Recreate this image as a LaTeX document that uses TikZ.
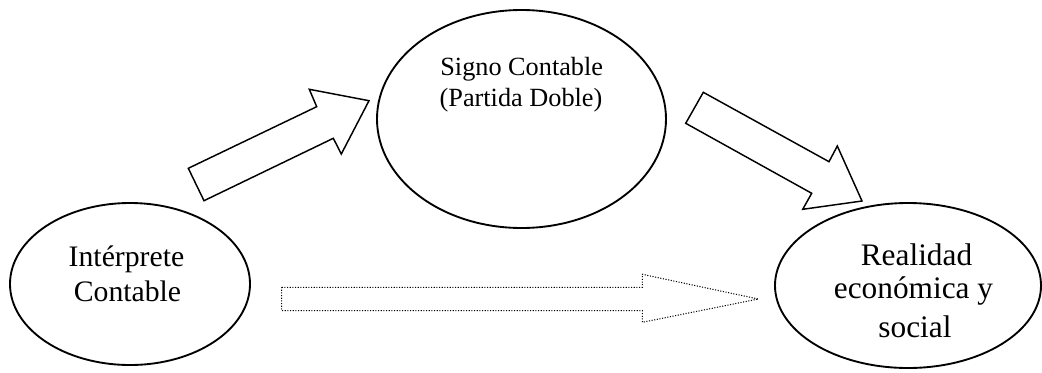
\documentclass[tikz,border=0pt]{standalone}
\usepackage{fontspec}
\setmainfont{Liberation Serif}
\usetikzlibrary{shapes.geometric}

\tikzset{
  bubble/.style={draw, ellipse, line width=1.4pt, inner sep=0pt},
  blockarrow/.style={draw, line width=1.1pt, line join=miter, fill=white},
  dotarrow/.style={draw, line width=0.8pt, dash pattern=on 0.8pt off 1.2pt},
  smalltxt/.style={anchor=base, inner sep=0pt, font=\fontsize{19.7pt}{24pt}\selectfont},
  lefttxt/.style={anchor=base, inner sep=0pt, font=\fontsize{22.3pt}{26pt}\selectfont},
  righttxt/.style={anchor=base, inner sep=0pt, font=\fontsize{23.5pt}{28pt}\selectfont},
}

\begin{document}
\begin{tikzpicture}[x=0.75pt, y=-0.75pt]
  \useasboundingbox (0,0) rectangle (1042,372);

  % the three ellipses
  \node[bubble, minimum width=216.75pt, minimum height=163.5pt] (signo) at (521.5,119) {};
  \node[bubble, minimum width=180pt, minimum height=121.5pt] (interp) at (130,284) {};
  \node[bubble, minimum width=199.5pt, minimum height=123.75pt] (real) at (908,285.5) {};

  % their texts
  \node[smalltxt] (s1) at (521.7,75) {Signo Contable};
  \node[smalltxt] (s2) at (521,106) {(Partida Doble)};
  \node[lefttxt] (i1) at (126.5,266.7) {Intérprete};
  \node[lefttxt] (i2) at (127.5,301.7) {Contable};
  \node[righttxt] (r1) at (916.5,265) {Realidad};
  \node[righttxt] (r2) at (913.5,298.3) {económica y};
  \node[righttxt] (r3) at (915,337.5) {social};

  % block arrow: interpreter -> sign
  \path[blockarrow] (204,200.7) -- (188.3,168.3) -- (316.7,106.7) -- (309.3,89.3)
    -- (369,100.7) -- (341.3,154) -- (333.3,138.3) -- cycle;

  % block arrow: sign -> reality
  \path[blockarrow] (703.3,92.3) -- (829,161.7) -- (837.3,146) -- (862,201)
    -- (802.7,209.3) -- (811.7,193.3) -- (685.7,123.3) -- cycle;

  % dotted block arrow: interpreter -> reality
  \path[dotarrow] (281.7,287.3) -- (642.3,287.3) -- (642.3,274.3) -- (758.3,299)
    -- (642.3,322.3) -- (642.3,310.7) -- (281.7,310.7) -- cycle;
\end{tikzpicture}
\end{document}
